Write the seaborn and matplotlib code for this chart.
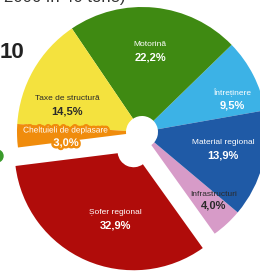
import matplotlib
matplotlib.use("Agg")
import matplotlib.pyplot as plt
import matplotlib.patheffects as pe
import seaborn as sns

# data
categories = ["Întreținere", "Motorină", "Taxe de structură", "Cheltuieli de deplasare",
              "Șofer regional", "Infrastructuri", "Material regional"]
shares = [9.5, 22.2, 14.5, 3.0, 32.9, 4.0, 13.9]
colors = ["#3cb2e6", "#3f8a12", "#f4e23e", "#f08c0c", "#b00c0a", "#d79bc8", "#1f5aa6"]
explode_px = [0, 0, 0, 0, 21, 0, 0]

sns.set_theme(style="white")
plt.rcParams["font.family"] = ["Liberation Sans", "DejaVu Sans"]

W, H = 260, 273
fig = plt.figure(figsize=(W / 100, H / 100), dpi=100)
ax = fig.add_axes([0, 0, 1, 1])
ax.axis("off")

# pie drawn in pixel-sized data units (explode offset is in data units)
cx, cy, R, hole = 142, H - 132, 125, 16
wedges, _ = ax.pie(shares, colors=colors, startangle=10, counterclock=True,
                   radius=R, center=(cx, cy), explode=explode_px,
                   wedgeprops=dict(width=R - hole, linewidth=0))
# the pulled-out slice looks a bit smaller in the original (tilted 3D look)
red = wedges[categories.index("Șofer regional")]
red.set_radius(R - 6)
red.set_width(R - 6 - hole)

ax.set_xlim(0, W)
ax.set_ylim(0, H)
ax.set_aspect("equal")

# label layout (pixel coords from top-left)
label_pos = [(232, 93), (150, 45), (67, 99), (66, 131), (115, 213), (214, 194), (223, 143)]
dark_text = {"Taxe de structură", "Infrastructuri"}
for name, val, col, (px, py) in zip(categories, shares, colors, label_pos):
    c = "#2a2a2a" if name in dark_text else "white"
    fx = None
    if name == "Cheltuieli de deplasare":
        # thin slice: give the label a backing in the slice colour
        fx = [pe.withStroke(linewidth=3.5, foreground=col)]
    ax.text(px, H - py, name, ha="center", va="center", fontsize=6, color=c,
            path_effects=fx)
    ax.text(px, H - py - 12, f"{val:.1f}%".replace(".", ","), ha="center", va="center",
            fontsize=8, fontweight="bold", color=c, path_effects=fx)

# cropped surrounding page elements
ax.text(4, H - 2, "2006 în 40 tone)", ha="left", va="baseline", fontsize=12, color="#333333")
ax.text(0, H - 58, "10", ha="left", va="baseline", fontsize=16, fontweight="bold",
        color="#222222")
ax.add_patch(plt.Circle((-3, H - 156), 6, color="#3a9a2a", clip_on=True))

fig.savefig("out.png", dpi=100, facecolor="white")
